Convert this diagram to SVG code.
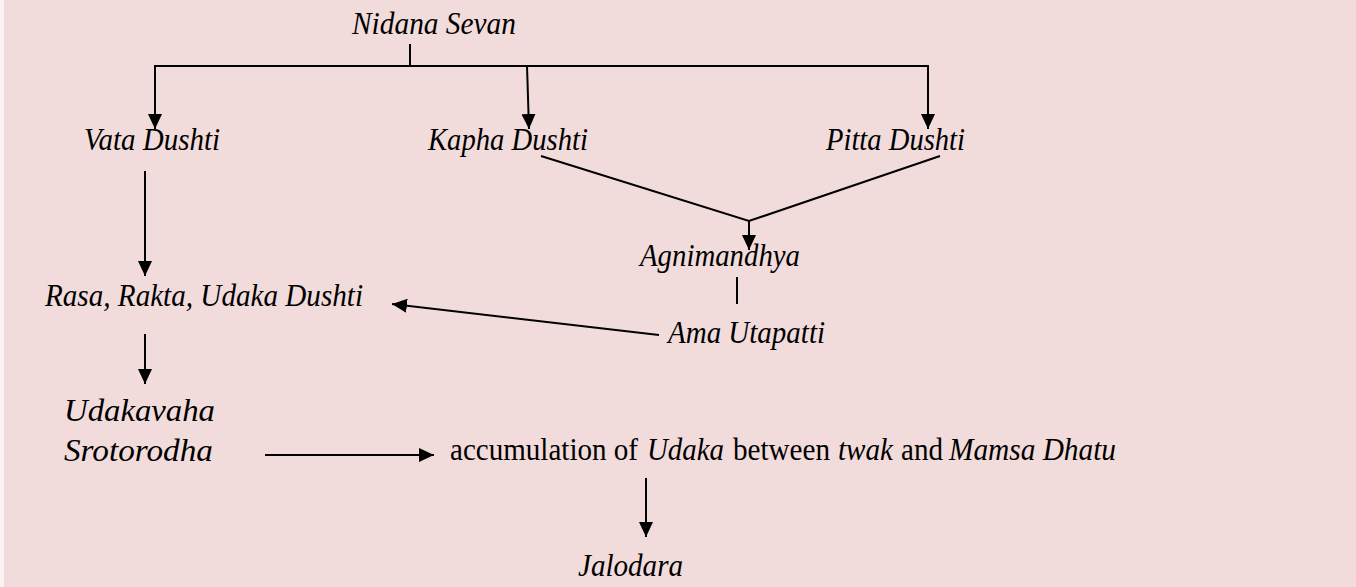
<svg xmlns="http://www.w3.org/2000/svg" width="1356" height="587" viewBox="0 0 1356 587">
<style>
.t{font-family:"Liberation Serif","Times New Roman","DejaVu Serif",serif;font-size:31px;font-style:italic;fill:#000}
.n{font-style:normal}
.c{stroke:#000;stroke-width:2;fill:none}
</style>
<defs>
<marker id="ah" markerUnits="userSpaceOnUse" markerWidth="16" markerHeight="14" refX="15" refY="7" orient="auto">
<path d="M0,0 L15,7 L0,14 Z" fill="#000"/>
</marker>
</defs>
<rect x="0" y="0" width="1356" height="587" fill="#fbf3f3"/>
<rect x="4" y="0" width="1352" height="587" fill="#F2DBDB"/>
<g id="connectors">
<line class="c" x1="410" y1="44" x2="410" y2="66"/>
<line class="c" x1="154" y1="66" x2="929" y2="66"/>
<line class="c" x1="155" y1="66" x2="155" y2="129" marker-end="url(#ah)"/>
<line class="c" x1="527" y1="66" x2="529" y2="129" marker-end="url(#ah)"/>
<line class="c" x1="928" y1="66" x2="928" y2="129" marker-end="url(#ah)"/>
<polyline class="c" points="541,156 749,221 940,156"/>
<line class="c" x1="749" y1="221" x2="749" y2="250" marker-end="url(#ah)"/>
<line class="c" x1="145" y1="171" x2="145" y2="276" marker-end="url(#ah)"/>
<line class="c" x1="737" y1="277" x2="737" y2="304"/>
<line class="c" x1="659" y1="335" x2="392" y2="304" marker-end="url(#ah)"/>
<line class="c" x1="145" y1="334" x2="145" y2="384" marker-end="url(#ah)"/>
<line class="c" x1="265" y1="455" x2="434" y2="455" marker-end="url(#ah)"/>
<line class="c" x1="646" y1="478" x2="646" y2="537" marker-end="url(#ah)"/>
</g>
<g id="nidana"><text class="t" x="352" y="34" textLength="164" lengthAdjust="spacingAndGlyphs">Nidana Sevan</text></g>
<g id="vata"><text class="t" x="84" y="150" textLength="136" lengthAdjust="spacingAndGlyphs">Vata Dushti</text></g>
<g id="kapha"><text class="t" x="428" y="150" textLength="160" lengthAdjust="spacingAndGlyphs">Kapha Dushti</text></g>
<g id="pitta"><text class="t" x="826" y="150" textLength="139" lengthAdjust="spacingAndGlyphs">Pitta Dushti</text></g>
<g id="agnimandhya"><text class="t" x="640" y="266" textLength="160" lengthAdjust="spacingAndGlyphs">Agnimandhya</text></g>
<g id="rasa"><text class="t" x="45" y="306" textLength="318" lengthAdjust="spacingAndGlyphs">Rasa, Rakta, Udaka Dushti</text></g>
<g id="ama"><text class="t" x="668" y="343" textLength="157" lengthAdjust="spacingAndGlyphs">Ama Utapatti</text></g>
<g id="udakavaha">
<text class="t" x="64" y="421" textLength="151" lengthAdjust="spacingAndGlyphs">Udakavaha</text>
<text class="t" x="64" y="461" textLength="149" lengthAdjust="spacingAndGlyphs">Srotorodha</text>
</g>
<g id="accumulation">
<text class="t n" x="450" y="460" textLength="188" lengthAdjust="spacingAndGlyphs">accumulation of</text>
<text class="t" x="647" y="460" textLength="77" lengthAdjust="spacingAndGlyphs">Udaka</text>
<text class="t n" x="733" y="460" textLength="97" lengthAdjust="spacingAndGlyphs">between</text>
<text class="t" x="838" y="460" textLength="55" lengthAdjust="spacingAndGlyphs">twak</text>
<text class="t n" x="901" y="460" textLength="42" lengthAdjust="spacingAndGlyphs">and</text>
<text class="t" x="949" y="460" textLength="167" lengthAdjust="spacingAndGlyphs">Mamsa Dhatu</text>
</g>
<g id="jalodara"><text class="t" x="578" y="576" textLength="105" lengthAdjust="spacingAndGlyphs">Jalodara</text></g>
</svg>
